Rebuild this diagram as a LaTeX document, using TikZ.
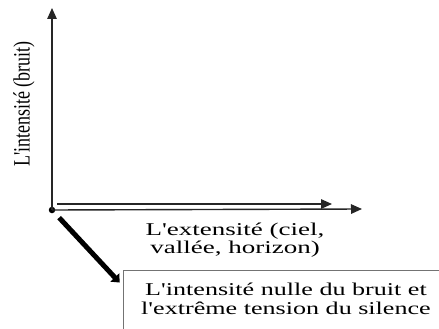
\documentclass[tikz,border=0pt]{standalone}
\usepackage{fontspec}
\setmainfont{Liberation Serif}[Ligatures=TeXOff]
\usetikzlibrary{arrows.meta,calc}
\begin{document}
\begin{tikzpicture}[x=1pt,y=-1pt,
  axis/.style={line width=1.4pt, draw=black!85, -{Triangle[length=11pt,width=9.5pt]}},
  lbl/.style={font=\fontsize{18}{17}\selectfont, inner sep=0pt, align=center},
  boxlbl/.style={font=\fontsize{18}{19}\selectfont, inner sep=0pt, align=center},
  dot/.style={circle, fill=black, minimum size=6.5pt, inner sep=0pt},
  textbox/.style={draw=black!55, line width=0.8pt, minimum width=326pt, minimum height=61.7pt},
  thick arrow/.style={line width=5pt, -{Triangle[length=7pt,width=12pt]}}
]
\clip (0,0) rectangle (439,329);
\fill[white] (0,0) rectangle (439,329);
\node[dot] (o) at (52,210) {};
\coordinate (ytop) at (52,8);
\coordinate (xend) at (362,209);
\coordinate (ustart) at (57,204);
\coordinate (uend) at (332,204);
\draw[axis] (o.center) -- (ytop);
\draw[axis] (o.center) -- (xend);
\draw[axis] (ustart) -- (uend);
\node[lbl, rotate=90] (ylab) at (24,104) {\scalebox{1}[1.3]{L'intensité (bruit)}};
\node[lbl] (xlab) at (235,241) {\scalebox{1.5}[1]{\begin{tabular}{@{}c@{}}L'extensité (ciel,\\ vallée, horizon)\end{tabular}}};
\node[boxlbl, textbox] (box) at (286,300.8) {\scalebox{1.45}[1]{\begin{tabular}{@{}c@{}}L'intensité nulle du bruit et\\ l'extrême tension du silence\end{tabular}}};
\coordinate (dtip) at ($(box.north west)+(-3,13)$);
\draw[thick arrow, shorten <=7pt] (o) -- (dtip);
\end{tikzpicture}
\end{document}
